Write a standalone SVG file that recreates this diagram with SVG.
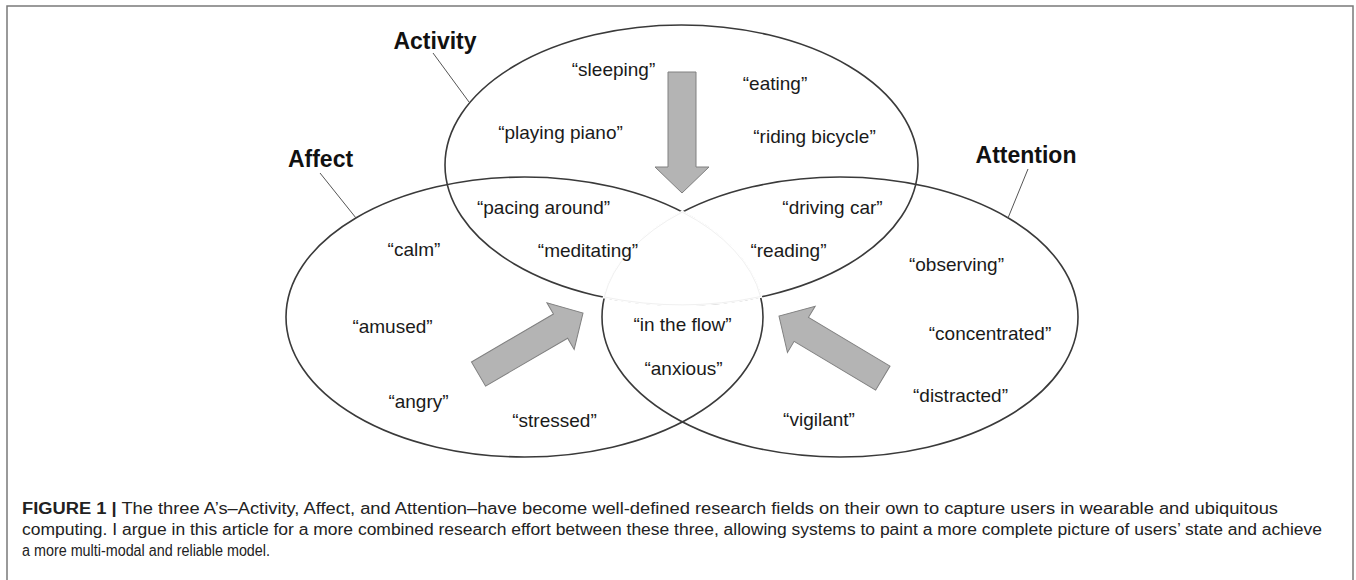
<svg xmlns="http://www.w3.org/2000/svg" xmlns:xlink="http://www.w3.org/1999/xlink" width="1356" height="580" viewBox="0 0 1356 580">
  <style>
    .frame { fill: none; stroke: #7a7a7a; stroke-width: 1.5; }
    .set { fill: none; stroke: #3a3a3a; stroke-width: 1.6; }
    .leader { fill: none; stroke: #555; stroke-width: 1; }
    .title { font-family: "Liberation Sans", Arial, sans-serif; font-weight: bold; font-size: 23px; fill: #111; text-anchor: middle; }
    .item { font-family: "Liberation Sans", Arial, sans-serif; font-size: 19px; fill: #1a1a1a; text-anchor: middle; }
    .cap { font-family: "Liberation Sans", Arial, sans-serif; font-size: 16px; fill: #222; }
    .bigarrow { fill: #b4b4b4; stroke: #808080; stroke-width: 1; }
  </style>
  <defs>
    <path id="blockArrow" d="M -121 -14 L -26 -14 L -26 -27 L 0 0 L -26 27 L -26 14 L -121 14 Z"/>
  </defs>
  <rect width="1356" height="580" fill="#ffffff"/>
  <path class="frame" d="M 7 580 L 7 6 L 1353 6 L 1353 580"/>

  <g id="node-activity">
    <ellipse class="set" cx="681.5" cy="165" rx="236.5" ry="140"/>
  </g>
  <g id="node-affect">
    <ellipse class="set" cx="524.5" cy="317" rx="238.5" ry="140"/>
  </g>
  <g id="node-attention">
    <ellipse class="set" cx="840" cy="317" rx="238" ry="140"/>
  </g>
  <g id="center-overlap">
    <path d="M 604.3 297 A 238 140 0 0 1 682.25 212.1 A 238.5 140 0 0 1 760.5 296.6 A 236.5 140 0 0 1 604.3 297 Z" fill="#ffffff" stroke="#ffffff" stroke-width="3"/>
    <path d="M 604.3 297 A 238 140 0 0 1 682.25 212.1 A 238.5 140 0 0 1 760.5 296.6 A 236.5 140 0 0 1 604.3 297 Z" fill="none" stroke="#f0f0f0" stroke-width="1"/>
  </g>

  <g id="connectors">
    <line class="leader" x1="433" y1="53" x2="469" y2="102"/>
    <line class="leader" x1="320" y1="173" x2="356" y2="218"/>
    <line class="leader" x1="1028" y1="169" x2="1008" y2="218"/>
    <use xlink:href="#blockArrow" href="#blockArrow" class="bigarrow" transform="translate(682 193) rotate(90)"/>
    <use xlink:href="#blockArrow" href="#blockArrow" class="bigarrow" transform="translate(583 313) rotate(-30.3)"/>
    <use xlink:href="#blockArrow" href="#blockArrow" class="bigarrow" transform="translate(779 316) rotate(-149.1)"/>
  </g>

  <g id="labels">
    <text class="title" x="435" y="49">Activity</text>
    <text class="title" x="320.5" y="167">Affect</text>
    <text class="title" x="1026" y="163">Attention</text>
  </g>

  <g id="items">
    <text class="item" x="613.5" y="76">“sleeping”</text>
    <text class="item" x="775" y="90">“eating”</text>
    <text class="item" x="560.5" y="139">“playing piano”</text>
    <text class="item" x="814.5" y="143">“riding bicycle”</text>
    <text class="item" x="543.5" y="214">“pacing around”</text>
    <text class="item" x="832.5" y="214">“driving car”</text>
    <text class="item" x="414" y="256">“calm”</text>
    <text class="item" x="588" y="257">“meditating”</text>
    <text class="item" x="788.5" y="257">“reading”</text>
    <text class="item" x="956.5" y="271">“observing”</text>
    <text class="item" x="392.5" y="333">“amused”</text>
    <text class="item" x="682.5" y="331">“in the flow”</text>
    <text class="item" x="990" y="340">“concentrated”</text>
    <text class="item" x="683.5" y="375">“anxious”</text>
    <text class="item" x="418.5" y="408">“angry”</text>
    <text class="item" x="554.5" y="427">“stressed”</text>
    <text class="item" x="960.5" y="402">“distracted”</text>
    <text class="item" x="819" y="426">“vigilant”</text>
  </g>

  <g id="caption">
    <text class="cap" x="22" y="514" textLength="1256" lengthAdjust="spacingAndGlyphs"><tspan font-weight="bold">FIGURE 1 |</tspan> The three A’s–Activity, Affect, and Attention–have become well-defined research fields on their own to capture users in wearable and ubiquitous</text>
    <text class="cap" x="22" y="535" textLength="1300" lengthAdjust="spacingAndGlyphs">computing. I argue in this article for a more combined research effort between these three, allowing systems to paint a more complete picture of users’ state and achieve</text>
    <text class="cap" x="22" y="556" textLength="248" lengthAdjust="spacingAndGlyphs">a more multi-modal and reliable model.</text>
  </g>
</svg>
